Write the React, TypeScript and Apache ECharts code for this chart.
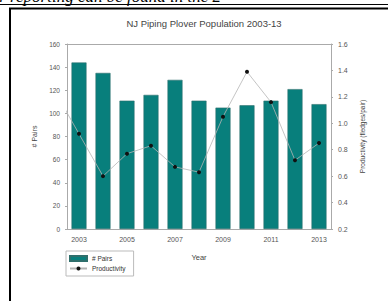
import React, { useEffect, useRef } from "react";
import * as echarts from "echarts";

const years = ["2003", "2004", "2005", "2006", "2007", "2008", "2009", "2010", "2011", "2012", "2013"];
const pairs = [144, 135, 111, 116, 129, 111, 105, 107, 111, 121, 108];
const productivityYears = [2002, 2003, 2004, 2005, 2006, 2007, 2008, 2009, 2010, 2011, 2012, 2013];
const productivity = [1.24, 0.92, 0.6, 0.77, 0.83, 0.67, 0.63, 1.05, 1.39, 1.16, 0.72, 0.85];
const titleText = "NJ Piping Plover Population 2003-13";
const headerText = "for reporting can be found in the 2";

export default function App() {
  const ref = useRef<HTMLDivElement>(null);
  useEffect(() => {
    document.body.style.margin = "0";
    const chart = echarts.init(ref.current!, undefined, { renderer: "svg" });
    const font = "Liberation Sans";
    const txt = { fontFamily: font, fontSize: 6.5, color: "#555" };
    chart.setOption({
      animation: false,
      backgroundColor: "#fff",
      title: {
        text: titleText,
        left: 199,
        top: 13,
        textAlign: "center",
        textStyle: { fontFamily: font, fontSize: 9.5, fontWeight: "normal", color: "#444" },
      },
      graphic: [
        {
          type: "text",
          x: -14,
          y: 5,
          style: {
            text: headerText,
            font: "italic 17px 'Liberation Serif', serif",
            fill: "#000",
            verticalAlign: "bottom",
          },
        },
        { type: "line", shape: { x1: 0, y1: 4.5, x2: 388, y2: 4.5 }, style: { stroke: "#000", lineWidth: 1.2 } },
        {
          type: "rect",
          shape: { x: 10, y: 8.5, width: 420, height: 330 },
          style: { fill: "none", stroke: "#000", lineWidth: 2 },
        },
      ],
      legend: {
        orient: "vertical",
        left: 66,
        top: 251,
        padding: [4, 8, 4, 3],
        itemGap: 3,
        itemWidth: 17,
        itemHeight: 5,
        borderColor: "#bbb",
        borderWidth: 1,
        textStyle: { ...txt, fontSize: 6.5, color: "#333" },
        data: [
          { name: "# Pairs", icon: "rect" },
          { name: "Productivity" },
        ],
      },
      grid: { left: 67, right: 57, top: 44, bottom: 72, containLabel: false },
      xAxis: [
        {
          type: "category",
          data: years,
          boundaryGap: true,
          name: "Year",
          nameLocation: "middle",
          nameGap: 24,
          nameTextStyle: { ...txt, fontSize: 7.5, color: "#444" },
          axisLine: { lineStyle: { color: "#aaa", width: 1 } },
          axisTick: { alignWithLabel: true, interval: 1, length: 2, lineStyle: { color: "#aaa" } },
          axisLabel: { ...txt, fontSize: 7, interval: 1, margin: 7 },
        },
        {
          type: "value",
          min: 2002.5,
          max: 2013.5,
          position: "top",
          axisLine: { show: true, onZero: false, lineStyle: { color: "#aaa", width: 1 } },
          axisTick: { show: false },
          axisLabel: { show: false },
          splitLine: { show: false },
        },
      ],
      yAxis: [
        {
          type: "value",
          min: 0,
          max: 160,
          interval: 20,
          name: "# Pairs",
          nameLocation: "middle",
          nameGap: 28,
          nameTextStyle: { ...txt, fontSize: 7, color: "#444" },
          axisLine: { show: true, lineStyle: { color: "#aaa", width: 1 } },
          axisTick: { show: true, length: 2, lineStyle: { color: "#aaa" } },
          axisLabel: { ...txt, margin: 7 },
          splitLine: { show: false },
        },
        {
          type: "value",
          min: 0.2,
          max: 1.6,
          interval: 0.2,
          position: "right",
          name: "Productivity (fledges/pair)",
          nameLocation: "middle",
          nameGap: 27,
          nameRotate: 90,
          nameTextStyle: { ...txt, fontSize: 6.5, color: "#444" },
          axisLine: { show: true, lineStyle: { color: "#aaa", width: 1 } },
          axisTick: { show: true, length: 2, lineStyle: { color: "#aaa" } },
          axisLabel: { ...txt, fontSize: 7, margin: 7, formatter: (v: number) => v.toFixed(1) },
          splitLine: { show: false },
        },
      ],
      series: [
        {
          name: "# Pairs",
          type: "bar",
          xAxisIndex: 0,
          yAxisIndex: 0,
          data: pairs,
          barWidth: 15,
          itemStyle: { color: "#087f7c", borderColor: "#2f6f6c", borderWidth: 0.6 },
        },
        {
          name: "Productivity",
          type: "line",
          xAxisIndex: 1,
          yAxisIndex: 1,
          data: productivityYears.map((y, i) => [y, productivity[i]]),
          clip: true,
          symbol: "circle",
          symbolSize: 4,
          itemStyle: { color: "#111" },
          lineStyle: { color: "#b5b5b5", width: 0.8 },
          z: 5,
        },
      ],
    });
    return () => chart.dispose();
  }, []);
  return <div ref={ref} style={{ width: 388, height: 301 }} />;
}
